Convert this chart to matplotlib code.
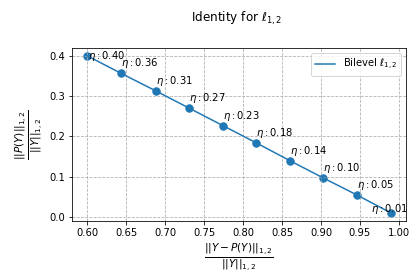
import matplotlib
matplotlib.use("Agg")
import matplotlib.pyplot as plt
from matplotlib.ticker import MultipleLocator

# relative residual (x) vs relative projection norm (y), one point per eta
residual = [0.600, 0.644, 0.688, 0.731, 0.774, 0.817, 0.860, 0.903, 0.946, 0.990]
proj_norm = [0.400, 0.356, 0.313, 0.270, 0.227, 0.184, 0.140, 0.097, 0.055, 0.010]
eta = [0.40, 0.36, 0.31, 0.27, 0.23, 0.18, 0.14, 0.10, 0.05, 0.01]

DPI = 72
fig = plt.figure(figsize=(418 / DPI, 280 / DPI), dpi=DPI)
ax = fig.add_subplot(111)
fig.subplots_adjust(left=0.172, right=0.972, top=0.829, bottom=0.211)

ax.plot(residual, proj_norm, color="C0", label=r"Bilevel $\ell_{1,2}$")
ax.scatter(residual, proj_norm, color="C0", s=55)

for i, (x, y, e) in enumerate(zip(residual, proj_norm, eta)):
    if i == 0:
        off = (1, -3)
    elif i == len(eta) - 1:
        off = (-20, 1)
    else:
        off = (0, 7)
    ax.annotate(rf"$\eta: ${e:.2f}", (x, y), xytext=off, textcoords="offset points")

ax.xaxis.set_major_locator(MultipleLocator(0.05))
ax.grid(True, linestyle="--")
ax.legend(loc="upper right")
ax.set_xlabel(r"$\frac{||Y-P(Y)||_{1,2}}{||Y||_{1,2}}$", fontsize=15)
ax.set_ylabel(r"$\frac{||P(Y)||_{1,2}}{||Y||_{1,2}}$", fontsize=15)
fig.suptitle(r"Identity for $\ell_{1,2}$", x=0.565, y=0.965)

fig.savefig("out.png", dpi=DPI)
